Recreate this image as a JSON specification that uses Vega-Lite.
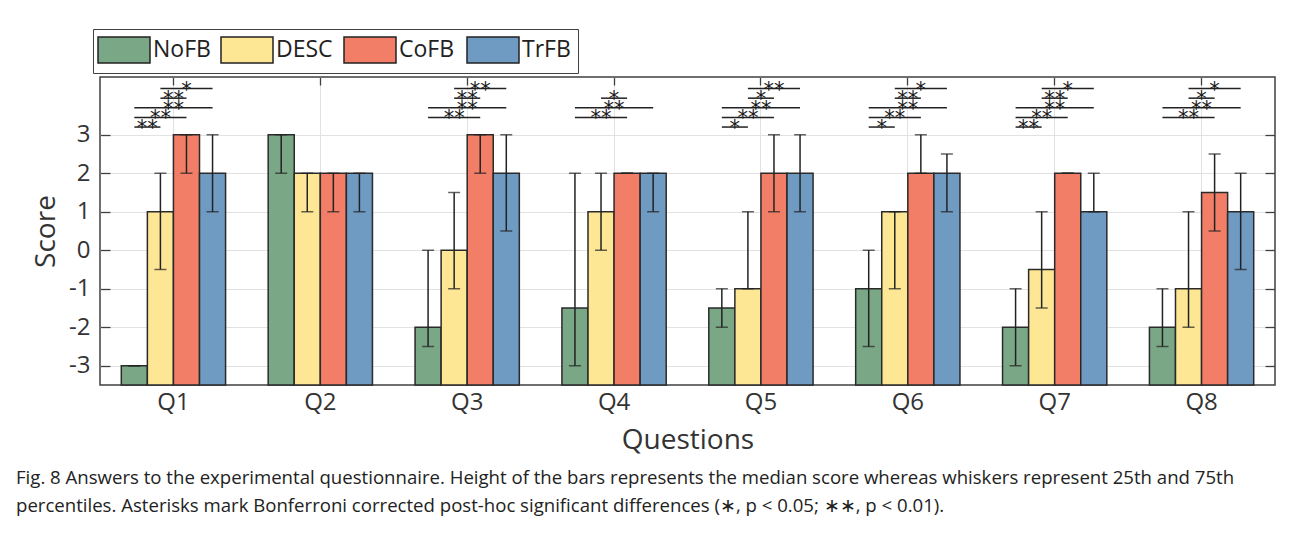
{
  "$schema": "https://vega.github.io/schema/vega-lite/v6.json",
  "width": 1175,
  "height": 308,
  "autosize": {"type": "none"},
  "padding": {"left": 100, "top": 77, "right": 20, "bottom": 148},
  "background": "white",
  "datasets": {
    "scores": [
      {"q": "Q1", "cond": "NoFB", "median": -3, "p25": -3, "p75": -3},
      {"q": "Q1", "cond": "DESC", "median": 1, "p25": -0.5, "p75": 2},
      {"q": "Q1", "cond": "CoFB", "median": 3, "p25": 2, "p75": 3},
      {"q": "Q1", "cond": "TrFB", "median": 2, "p25": 1, "p75": 3},
      {"q": "Q2", "cond": "NoFB", "median": 3, "p25": 2, "p75": 3},
      {"q": "Q2", "cond": "DESC", "median": 2, "p25": 1, "p75": 2},
      {"q": "Q2", "cond": "CoFB", "median": 2, "p25": 1, "p75": 2},
      {"q": "Q2", "cond": "TrFB", "median": 2, "p25": 1, "p75": 2},
      {"q": "Q3", "cond": "NoFB", "median": -2, "p25": -2.5, "p75": 0},
      {"q": "Q3", "cond": "DESC", "median": 0, "p25": -1, "p75": 1.5},
      {"q": "Q3", "cond": "CoFB", "median": 3, "p25": 2, "p75": 3},
      {"q": "Q3", "cond": "TrFB", "median": 2, "p25": 0.5, "p75": 3},
      {"q": "Q4", "cond": "NoFB", "median": -1.5, "p25": -3, "p75": 2},
      {"q": "Q4", "cond": "DESC", "median": 1, "p25": 0, "p75": 2},
      {"q": "Q4", "cond": "CoFB", "median": 2, "p25": 2, "p75": 2},
      {"q": "Q4", "cond": "TrFB", "median": 2, "p25": 1, "p75": 2},
      {"q": "Q5", "cond": "NoFB", "median": -1.5, "p25": -2, "p75": -1},
      {"q": "Q5", "cond": "DESC", "median": -1, "p25": -1, "p75": 1},
      {"q": "Q5", "cond": "CoFB", "median": 2, "p25": 1, "p75": 3},
      {"q": "Q5", "cond": "TrFB", "median": 2, "p25": 1, "p75": 3},
      {"q": "Q6", "cond": "NoFB", "median": -1, "p25": -2.5, "p75": 0},
      {"q": "Q6", "cond": "DESC", "median": 1, "p25": -1, "p75": 1},
      {"q": "Q6", "cond": "CoFB", "median": 2, "p25": 2, "p75": 3},
      {"q": "Q6", "cond": "TrFB", "median": 2, "p25": 1, "p75": 2.5},
      {"q": "Q7", "cond": "NoFB", "median": -2, "p25": -3, "p75": -1},
      {"q": "Q7", "cond": "DESC", "median": -0.5, "p25": -1.5, "p75": 1},
      {"q": "Q7", "cond": "CoFB", "median": 2, "p25": 2, "p75": 2},
      {"q": "Q7", "cond": "TrFB", "median": 1, "p25": 1, "p75": 2},
      {"q": "Q8", "cond": "NoFB", "median": -2, "p25": -2.5, "p75": -1},
      {"q": "Q8", "cond": "DESC", "median": -1, "p25": -2, "p75": 1},
      {"q": "Q8", "cond": "CoFB", "median": 1.5, "p25": 0.5, "p75": 2.5},
      {"q": "Q8", "cond": "TrFB", "median": 1, "p25": -0.5, "p75": 2}
    ],
    "tests": [
      {"q": "Q1", "pair": "DESC–TrFB", "a": "DESC", "b": "TrFB", "sig": "*"},
      {"q": "Q1", "pair": "DESC–CoFB", "a": "DESC", "b": "CoFB", "sig": "**"},
      {"q": "Q1", "pair": "NoFB–TrFB", "a": "NoFB", "b": "TrFB", "sig": "**"},
      {"q": "Q1", "pair": "NoFB–CoFB", "a": "NoFB", "b": "CoFB", "sig": "**"},
      {"q": "Q1", "pair": "NoFB–DESC", "a": "NoFB", "b": "DESC", "sig": "**"},
      {"q": "Q3", "pair": "DESC–TrFB", "a": "DESC", "b": "TrFB", "sig": "**"},
      {"q": "Q3", "pair": "DESC–CoFB", "a": "DESC", "b": "CoFB", "sig": "**"},
      {"q": "Q3", "pair": "NoFB–TrFB", "a": "NoFB", "b": "TrFB", "sig": "**"},
      {"q": "Q3", "pair": "NoFB–CoFB", "a": "NoFB", "b": "CoFB", "sig": "**"},
      {"q": "Q4", "pair": "DESC–CoFB", "a": "DESC", "b": "CoFB", "sig": "*"},
      {"q": "Q4", "pair": "NoFB–TrFB", "a": "NoFB", "b": "TrFB", "sig": "**"},
      {"q": "Q4", "pair": "NoFB–CoFB", "a": "NoFB", "b": "CoFB", "sig": "**"},
      {"q": "Q5", "pair": "DESC–TrFB", "a": "DESC", "b": "TrFB", "sig": "**"},
      {"q": "Q5", "pair": "DESC–CoFB", "a": "DESC", "b": "CoFB", "sig": "*"},
      {"q": "Q5", "pair": "NoFB–TrFB", "a": "NoFB", "b": "TrFB", "sig": "**"},
      {"q": "Q5", "pair": "NoFB–CoFB", "a": "NoFB", "b": "CoFB", "sig": "**"},
      {"q": "Q5", "pair": "NoFB–DESC", "a": "NoFB", "b": "DESC", "sig": "*"},
      {"q": "Q6", "pair": "DESC–TrFB", "a": "DESC", "b": "TrFB", "sig": "*"},
      {"q": "Q6", "pair": "DESC–CoFB", "a": "DESC", "b": "CoFB", "sig": "**"},
      {"q": "Q6", "pair": "NoFB–TrFB", "a": "NoFB", "b": "TrFB", "sig": "**"},
      {"q": "Q6", "pair": "NoFB–CoFB", "a": "NoFB", "b": "CoFB", "sig": "**"},
      {"q": "Q6", "pair": "NoFB–DESC", "a": "NoFB", "b": "DESC", "sig": "*"},
      {"q": "Q7", "pair": "DESC–TrFB", "a": "DESC", "b": "TrFB", "sig": "*"},
      {"q": "Q7", "pair": "DESC–CoFB", "a": "DESC", "b": "CoFB", "sig": "**"},
      {"q": "Q7", "pair": "NoFB–TrFB", "a": "NoFB", "b": "TrFB", "sig": "**"},
      {"q": "Q7", "pair": "NoFB–CoFB", "a": "NoFB", "b": "CoFB", "sig": "**"},
      {"q": "Q7", "pair": "NoFB–DESC", "a": "NoFB", "b": "DESC", "sig": "**"},
      {"q": "Q8", "pair": "DESC–TrFB", "a": "DESC", "b": "TrFB", "sig": "*"},
      {"q": "Q8", "pair": "DESC–CoFB", "a": "DESC", "b": "CoFB", "sig": "*"},
      {"q": "Q8", "pair": "NoFB–TrFB", "a": "NoFB", "b": "TrFB", "sig": "**"},
      {"q": "Q8", "pair": "NoFB–CoFB", "a": "NoFB", "b": "CoFB", "sig": "**"}
    ],
    "brackets": [
      {"pair": "NoFB–DESC", "level": 3.2},
      {"pair": "NoFB–CoFB", "level": 3.45},
      {"pair": "NoFB–TrFB", "level": 3.7},
      {"pair": "DESC–CoFB", "level": 3.95},
      {"pair": "DESC–TrFB", "level": 4.2}
    ],
    "conditions": [
      {"cond": "NoFB", "idx": 0},
      {"cond": "DESC", "idx": 1},
      {"cond": "CoFB", "idx": 2},
      {"cond": "TrFB", "idx": 3}
    ]
  },
  "data": {"name": "scores"},
  "config": {
    "font": "Open Sans",
    "view": {"stroke": "#404040", "strokeWidth": 1.5},
    "axis": {
      "domain": false,
      "gridColor": "#e2e2e2",
      "gridWidth": 1,
      "tickColor": "#404040",
      "tickWidth": 1.3,
      "labelColor": "#333333",
      "titleColor": "#333333",
      "labelFont": "Open Sans",
      "titleFont": "Open Sans",
      "titleFontWeight": "normal"
    }
  },
  "title": {
    "text": [
      "Fig. 8 Answers to the experimental questionnaire. Height of the bars represents the median score whereas whiskers represent 25th and 75th",
      "percentiles. Asterisks mark Bonferroni corrected post-hoc significant differences (∗, p < 0.05; ∗∗, p < 0.01)."
    ],
    "orient": "bottom",
    "anchor": "start",
    "frame": "group",
    "dx": -84,
    "offset": 15,
    "font": "Open Sans",
    "fontSize": 18.6,
    "fontWeight": "normal",
    "lineHeight": 28,
    "color": "#222222"
  },
  "layer": [
    {
      "layer": [
        {
          "mark": {"type": "bar", "stroke": "#2a2a2a", "strokeWidth": 1.5},
          "encoding": {
            "x": {
              "field": "q", "type": "nominal",
              "scale": {"paddingInner": 0.29, "paddingOuter": 0.145},
              "axis": {"orient": "bottom", "title": "Questions", "titleFontSize": 28, "labelFontSize": 24, "labelAngle": 0, "ticks": false, "labelPadding": 5, "titlePadding": 12, "grid": true, "bandPosition": 0.5}
            },
            "xOffset": {"field": "cond", "type": "nominal", "scale": {"domain": ["NoFB", "DESC", "CoFB", "TrFB"], "paddingInner": 0, "paddingOuter": 0}},
            "y": {
              "field": "median", "type": "quantitative",
              "scale": {"domain": [-3.5, 4.5], "nice": false, "zero": false},
              "axis": {"orient": "left", "title": "Score", "titleFontSize": 28, "labelFontSize": 24, "values": [-3, -2, -1, 0, 1, 2, 3], "labelExpr": "'' + datum.value", "tickSize": -10, "labelPadding": 20, "titlePadding": 8, "grid": true}
            },
            "y2": {"datum": -3.5},
            "fill": {
              "field": "cond", "type": "nominal",
              "scale": {"domain": ["NoFB", "DESC", "CoFB", "TrFB"], "range": ["#7aa886", "#fde795", "#f37e68", "#6f9bc2"]},
              "legend": {
                "orient": "none", "legendX": -7, "legendY": -48, "direction": "horizontal", "title": null,
                "symbolType": "M-2,-1H2V1H-2Z", "symbolSize": 676, "symbolOffset": 10, "symbolStrokeColor": "#222222", "symbolStrokeWidth": 1.5, "symbolOpacity": 1,
                "labelFontSize": 23, "labelFont": "Open Sans", "labelColor": "#222222", "labelOffset": 15, "columnPadding": 7, "gridAlign": "all",
                "strokeColor": "#404040", "padding": 7
              }
            }
          }
        },
        {
          "mark": {"type": "tick", "color": "#222222", "thickness": 1.5, "size": 12},
          "encoding": {
            "x": {"field": "q", "type": "nominal"},
            "xOffset": {"field": "cond", "type": "nominal", "scale": {"domain": ["NoFB", "DESC", "CoFB", "TrFB"], "paddingInner": 0, "paddingOuter": 0}},
            "y": {"field": "p25", "type": "quantitative", "scale": {"domain": [-3.5, 4.5], "nice": false, "zero": false}}
          }
        },
        {
          "mark": {"type": "tick", "color": "#222222", "thickness": 1.5, "size": 12},
          "encoding": {
            "x": {"field": "q", "type": "nominal"},
            "xOffset": {"field": "cond", "type": "nominal", "scale": {"domain": ["NoFB", "DESC", "CoFB", "TrFB"], "paddingInner": 0, "paddingOuter": 0}},
            "y": {"field": "p75", "type": "quantitative", "scale": {"domain": [-3.5, 4.5], "nice": false, "zero": false}}
          }
        }
      ]
    },
    {
      "mark": {"type": "rule", "color": "#222222", "strokeWidth": 1.5},
      "encoding": {
        "x": {"field": "q", "type": "nominal", "axis": {"orient": "top", "labels": false, "title": null, "grid": false, "ticks": true, "tickSize": -8, "bandPosition": 0.5}},
        "xOffset": {"field": "cond", "type": "nominal", "scale": {"domain": ["NoFB", "DESC", "CoFB", "TrFB"], "paddingInner": 0, "paddingOuter": 0}},
        "y": {"field": "p25", "type": "quantitative", "scale": {"domain": [-3.5, 4.5], "nice": false, "zero": false}, "axis": {"orient": "right", "labels": false, "title": null, "grid": false, "values": [-3, -2, -1, 0, 1, 2, 3], "tickSize": -10}},
        "y2": {"field": "p75"}
      }
    },
    {
      "data": {"name": "tests"},
      "transform": [
        {"lookup": "pair", "from": {"data": {"name": "brackets"}, "key": "pair", "fields": ["level"]}},
        {"fold": ["a", "b"], "as": ["end", "cond"]},
        {"lookup": "cond", "from": {"data": {"name": "conditions"}, "key": "cond", "fields": ["idx"]}}
      ],
      "layer": [
        {
          "mark": {"type": "line", "color": "#222222", "strokeWidth": 1.5},
          "encoding": {
            "x": {"field": "q", "type": "nominal", "axis": null},
            "xOffset": {"field": "idx", "type": "quantitative", "scale": {"domain": [-0.5, 3.5], "nice": false, "zero": false}},
            "y": {"field": "level", "type": "quantitative", "scale": {"domain": [-3.5, 4.5], "nice": false, "zero": false}, "axis": null},
            "detail": [{"field": "q"}, {"field": "pair"}]
          }
        },
        {
          "transform": [
            {"aggregate": [{"op": "mean", "field": "idx", "as": "mid"}], "groupby": ["q", "pair", "sig", "level"]}
          ],
          "mark": {"type": "text", "font": "DejaVu Sans", "fontSize": 21, "baseline": "alphabetic", "dy": 8, "fill": "#1a1a1a"},
          "encoding": {
            "x": {"field": "q", "type": "nominal", "axis": null},
            "xOffset": {"field": "mid", "type": "quantitative", "scale": {"domain": [-0.5, 3.5], "nice": false, "zero": false}},
            "y": {"field": "level", "type": "quantitative", "scale": {"domain": [-3.5, 4.5], "nice": false, "zero": false}, "axis": null},
            "text": {"field": "sig"}
          }
        }
      ]
    }
  ],
  "resolve": {"scale": {"xOffset": "independent"}, "axis": {"x": "independent", "y": "independent"}}
}
